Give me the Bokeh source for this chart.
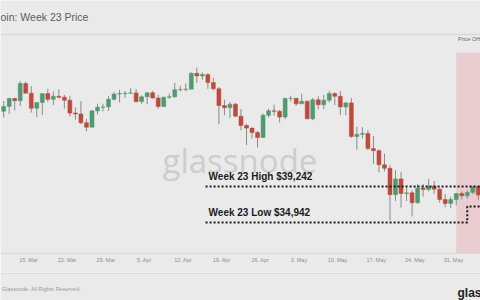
import pandas as pd
from bokeh.plotting import figure
from bokeh.layouts import column
from bokeh.models import (ColumnDataSource, Range1d, Label, Span, BoxAnnotation,
                          FixedTicker, DatetimeTickFormatter, Legend, LegendItem)
from bokeh.embed import file_html
from bokeh.resources import INLINE

# ---------------- data (daily candles, USD) ----------------
start_date = "2021-03-10"
end_date = "2021-06-04"

opens = [48223, 48803, 49755, 49491, 51551, 50389, 48593, 49280, 50336, 49649, 50019, 49913,
         49544, 48012, 47906, 46850, 46322, 48276, 48698, 48750, 49649, 50283,
         50336, 50389, 50420, 49385, 49966, 50442, 49808, 48803, 49913, 49950, 50811, 50840,
         50864, 52765, 52448, 52606, 51656, 50917, 48910, 48646, 49068, 47642, 46533, 46216,
         45689, 45094, 47748, 48276, 48223, 47537,
         49755, 49780, 49121, 49438, 47325, 49596, 49015, 49544, 50336, 50019, 48751, 49227,
         45214, 45478, 45584, 43767, 43526, 41837, 41414, 38263, 40148, 38395, 38483, 37296,
         39054, 38878, 39274, 38922, 37691, 37208, 37691,
         38395, 38131, 38527, 39230]
highs = [49438, 49861, 49861, 51815, 51762, 51234, 49280, 50336, 50917, 50600, 50864, 50177,
         50072, 48698, 49438, 47325, 48329, 49121, 49121, 50019, 50547, 50811,
         50653, 50970, 50864, 50125, 50494, 50653, 50177, 49966, 50336, 51603, 51287, 51551,
         52871, 53449, 52871, 52765, 52237, 51128, 49596, 49332, 49227, 48487, 46744, 46269,
         45900, 47959, 48540, 49015, 48381, 49861,
         50072, 49808, 50336, 49470, 49808, 50019, 50177, 50653, 50494, 50653, 49332, 49808,
         46375, 46322, 45952, 45266, 43646, 43164, 41776, 41173, 40992, 39054, 38790, 39544,
         39544, 40148, 39906, 39098, 38351, 37999, 38483,
         38659, 38790, 39242, 39235]
lows = [47484, 47906, 48329, 48857, 50389, 48065, 47537, 47801, 49332, 48962, 49755, 48540,
        47589, 47220, 46692, 45847, 46322, 47853, 48223, 48276, 49544, 49280,
        49861, 50336, 49280, 49121, 49068, 49755, 48540, 48751, 49702, 49861, 50600, 50600,
        50864, 51603, 51973, 50917, 50706, 46692, 47748, 47431, 47589, 45952, 44189, 44973,
        43887, 45033, 47484, 47695, 46903, 47272,
        49385, 48857, 49121, 47272, 47167, 48434, 48487, 49280, 48962, 47801, 47748, 45033,
        43646, 44973, 43646, 41957, 40932, 41052, 35186, 37515, 36724, 37515, 35670, 37208,
        38043, 38659, 38351, 37296, 36768, 36680, 37032,
        37691, 37779, 38351, 37647]
closes = [48803, 49755, 49491, 51551, 50389, 48593, 49280, 50336, 49649, 50019, 49913, 49544,
          48012, 47906, 46850, 46322, 48276, 48698, 48750, 49649, 50283, 50336,
          50389, 50420, 49385, 49966, 50442, 49808, 48803, 49913, 49950, 50811, 50840, 50864,
          52765, 52448, 52606, 51656, 50917, 48910, 48646, 49068, 47642, 46533, 46216, 45689,
          45094, 47748, 48276, 48223, 47537, 49755,
          49780, 49121, 49438, 47325, 49596, 49015, 49544, 50336, 50019, 48751, 49227, 45214,
          45478, 45584, 43767, 43526, 41837, 41414, 38263, 40148, 38395, 38483, 37296, 39054,
          38878, 39274, 38922, 37691, 37208, 37691, 38395,
          38131, 38527, 39230, 38219]

tick_dates = ["2021-03-15", "2021-03-22", "2021-03-29", "2021-04-05", "2021-04-12",
              "2021-04-19", "2021-04-26", "2021-05-03", "2021-05-10", "2021-05-17",
              "2021-05-24", "2021-05-31"]

week_high = 39242
week_low = 34942
week_start = "2021-05-31 12:00"
annotation_start = "2021-04-16 02:00"
low_step_date = "2021-06-02 12:00"
low_step_level = 36850

# ---------------- layout helpers ----------------
BG = "#eaeaea"
UP, DOWN, WICK = "#4f9a70", "#bd4a3b", "#8a8a8a"
FONT = "Liberation Sans"
DAY_MS = 86400000.0


def ms(ts):
    return pd.Timestamp(ts).value / 1e6


PX_PER_DAY = 5.519
X_REF_PX = 28.0
Y_HIGH_PX, Y_LOW_PX = 186.0, 222.0
USD_PER_PX = (week_high - week_low) / (Y_LOW_PX - Y_HIGH_PX)


def xd(px):
    return ms(tick_dates[0]) + (px - X_REF_PX) / PX_PER_DAY * DAY_MS


def yd(py):
    return week_high + (Y_HIGH_PX - py) * USD_PER_PX


dates = pd.date_range(start_date, end_date, freq="D") + pd.Timedelta(hours=12)
src = ColumnDataSource(dict(
    x=dates, o=opens, h=highs, l=lows, c=closes,
    top=[max(a, b) for a, b in zip(opens, closes)],
    bottom=[min(a, b) for a, b in zip(opens, closes)],
    color=[UP if c >= o else DOWN for o, c in zip(opens, closes)],
))

p = figure(width=480, height=272, output_backend="svg", toolbar_location=None,
           x_axis_type="datetime",
           x_range=Range1d(xd(0), xd(480)), y_range=Range1d(yd(253), yd(0)),
           y_axis_location=None,
           min_border_left=0, min_border_right=0, min_border_top=0, min_border_bottom=19,
           background_fill_color=BG, border_fill_color=BG, outline_line_color=None)
p.grid.visible = False

# week highlight
p.add_layout(BoxAnnotation(left=ms(week_start), top=yd(52), fill_color="#e9cdd1",
                           fill_alpha=1.0, line_color=None, level="underlay"))

# watermark
p.add_layout(Label(x=xd(162), y=yd(160), text="glassnode", text_font="Open Sans",
                   text_font_size="33px", text_color="#cdcdcd", text_baseline="alphabetic",
                   level="underlay"))

# candles
p.segment(x0="x", y0="h", x1="x", y1="l", source=src, line_color=WICK, line_width=1)
p.vbar(x="x", width=0.72 * DAY_MS, top="top", bottom="bottom", source=src,
       fill_color="color", line_color="color", line_width=0.5)

# annotation lines
end_x = xd(490)
p.line([ms(annotation_start), end_x], [week_high, week_high], line_color="#1c1c1c",
       line_width=2, line_dash="2 2")
p.line([ms(annotation_start), ms(low_step_date), ms(low_step_date), end_x],
       [week_low, week_low, low_step_level, low_step_level], line_color="#1c1c1c",
       line_width=2, line_dash="2 2")

for val, name in [(week_high, "High"), (week_low, "Low")]:
    p.add_layout(Label(x=ms(annotation_start), y=val, x_offset=3, y_offset=5,
                       text=f"Week 23 {name} ${val:,}", text_font=FONT,
                       text_font_style="bold", text_font_size="10px",
                       text_color="#1c1c1c", text_baseline="bottom"))

# title, separator, legend
p.add_layout(Label(x=xd(-17.5), y=yd(16), text="Bitcoin: Week 23 Price", text_font=FONT,
                   text_font_size="10.5px", text_color="#5c5c5c", text_baseline="middle"))
p.add_layout(Span(location=yd(34), dimension="width", line_color="#d9d9d9", line_width=1.5))

dummy = p.scatter(x=[], y=[], size=5, fill_color="#b8383c", line_color="#f1c6c9", line_width=2)
legend = Legend(items=[LegendItem(label="Price OHLC", renderers=[dummy])],
                location=(447, 209), padding=0, margin=0, spacing=0,
                glyph_width=10, glyph_height=10, label_height=8, label_standoff=1,
                label_text_font=FONT, label_text_font_size="5.5px",
                label_text_color="#666666", background_fill_alpha=0,
                border_line_color=None)
p.add_layout(legend)

# x axis
ax = p.xaxis[0]
ax.ticker = FixedTicker(ticks=[ms(t) for t in tick_dates])
fmt = "%-d. %b"
ax.formatter = DatetimeTickFormatter(days=fmt, months=fmt, hours=fmt, years=fmt,
                                     minutes=fmt, seconds=fmt, milliseconds=fmt,
                                     minsec=fmt, hourmin=fmt)
ax.axis_line_color = "#dadada"
ax.major_tick_line_color = None
ax.minor_tick_line_color = None
ax.major_tick_out = 0
ax.major_tick_in = 0
ax.minor_tick_out = 0
ax.major_label_standoff = 3
ax.major_label_text_font = FONT
ax.major_label_text_font_size = "5.5px"
ax.major_label_text_color = "#8e8e8e"

# footer strip (screen-like pixel coordinates)
f = figure(width=480, height=28, output_backend="svg", toolbar_location=None,
           x_range=Range1d(0, 480), y_range=Range1d(28, 0),
           x_axis_location=None, y_axis_location=None,
           min_border_left=0, min_border_right=0, min_border_top=0, min_border_bottom=0,
           background_fill_color=BG, border_fill_color=BG, outline_line_color=None)
f.grid.visible = False
f.add_layout(Span(location=0.8, dimension="width", line_color="#d8d8d8", line_width=1))
f.add_layout(Label(x=-18, y=16, text="\u00a9 2021 Glassnode. All Rights Reserved.",
                   text_font=FONT, text_font_size="5.5px", text_color="#9a9a9a",
                   text_baseline="middle"))
f.add_layout(Label(x=457, y=20, text="glassnode", text_font=FONT,
                   text_font_style="bold", text_font_size="12px", text_color="#222222",
                   text_baseline="alphabetic"))

layout = column(p, f, spacing=0)
open("out.html", "w").write(file_html(layout, INLINE))
